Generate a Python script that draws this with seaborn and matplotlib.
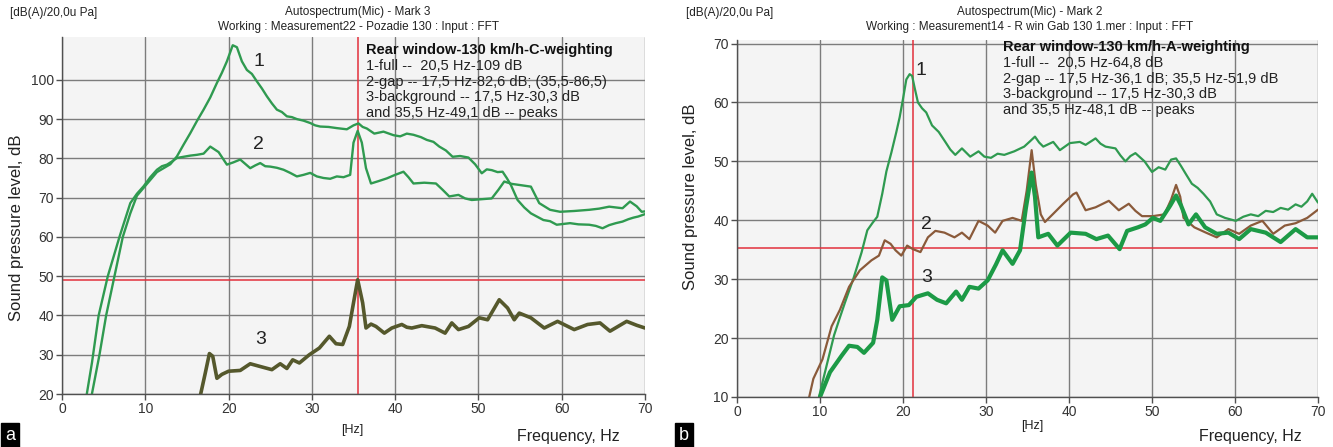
import matplotlib
matplotlib.use("Agg")
import matplotlib.pyplot as plt
import matplotlib.font_manager as fm
import seaborn as sns

# ---------------- data: panel a (C-weighting) ----------------
a_full_x = [3.5, 4.5, 5.3, 6.3, 7.3, 8.2, 9.0, 9.8, 10.6, 11.4,
            12.2, 13.0, 13.8, 14.6, 15.4, 16.2, 17.0, 17.8, 18.6, 19.2,
            19.8, 20.5, 21.0, 21.6, 22.2, 22.8, 23.4, 24.0, 24.6, 25.2,
            25.8, 26.4, 27.0, 27.6, 28.2, 29.0, 29.8, 30.4, 31.0, 32.0,
            33.0, 34.2, 35.0, 35.6, 36.1, 36.6, 37.5, 38.6, 39.8, 40.6,
            41.4, 42.2, 43.1, 43.8, 44.6, 45.3, 46.1, 46.9, 47.8, 48.8,
            49.6, 50.4, 51.0, 51.6, 52.3, 52.9, 53.4, 53.9, 54.7, 55.5,
            56.3, 57.0, 57.8, 58.6, 59.4, 60.2, 61.0, 62.0, 63.3, 64.1,
            64.9, 65.7, 66.5, 67.3, 68.0, 68.6, 69.2, 70.0]
a_full_y = [19, 30, 40, 50, 60, 66, 70.5, 72.5, 74.5, 76.5,
            77.5, 78.5, 80.5, 83.5, 86.4, 89.5, 92.4, 95.5, 99.2, 101.8,
            104.7, 108.8, 108.3, 104.7, 102.5, 101.5, 99.6, 97.8, 95.8, 94.0,
            92.4, 91.8, 90.7, 90.5, 90.0, 89.6, 89.0, 88.4, 88.1, 88.0,
            87.7, 87.4, 88.4, 88.9, 88.0, 87.6, 86.3, 86.8, 85.9, 85.6,
            86.3, 86.0, 85.4, 84.7, 84.2, 83.0, 82.0, 80.4, 80.6, 80.2,
            78.5, 76.2, 77.2, 77.0, 76.5, 76.6, 75.0, 73.2, 69.4, 67.5,
            66.0, 65.2, 64.3, 64.0, 63.1, 63.3, 63.5, 63.2, 63.1, 62.8,
            62.2, 63.0, 63.5, 63.9, 64.5, 64.9, 65.2, 65.8]

a_gap_x = [2.9, 3.6, 4.4, 5.5, 6.9, 8.2, 9.0, 9.8, 10.6, 11.4,
           12.0, 12.6, 13.2, 13.8, 14.6, 15.4, 16.2, 17.0, 17.8, 18.3,
           18.8, 19.3, 19.8, 20.6, 21.4, 22.0, 22.6, 23.2, 23.8, 24.4,
           25.0, 25.8, 26.6, 27.4, 28.2, 29.0, 29.8, 30.6, 31.4, 32.2,
           33.0, 33.8, 34.6, 35.0, 35.5, 36.0, 36.5, 37.1, 38.0, 39.0,
           40.0, 41.0, 41.6, 42.2, 43.5, 44.9, 45.7, 46.5, 47.6, 48.4,
           49.2, 50.4, 51.6, 52.4, 53.1, 54.0, 55.0, 56.3, 57.3, 58.6,
           59.8, 61.5, 63.3, 64.5, 65.7, 66.5, 67.3, 68.2, 69.0, 69.6,
           70.0]
a_gap_y = [19, 28, 40, 50, 60, 68.6, 71.0, 72.9, 75.2, 77.1,
           78.0, 78.4, 79.2, 80.1, 80.4, 80.7, 80.9, 81.2, 83.0, 82.3,
           81.6, 80.0, 78.4, 79.0, 79.7, 78.6, 77.5, 78.2, 78.8, 78.0,
           77.9, 77.6, 77.1, 76.3, 75.4, 75.8, 76.3, 75.4, 75.0, 74.8,
           75.4, 75.2, 75.8, 84.0, 87.0, 84.0, 77.5, 73.6, 74.2, 74.9,
           75.8, 76.6, 75.2, 73.6, 73.8, 73.6, 72.0, 70.3, 70.7, 69.8,
           69.4, 69.6, 69.8, 72.0, 74.1, 73.5, 73.2, 72.8, 68.6, 66.9,
           66.4, 66.6, 66.9, 67.2, 67.7, 67.5, 67.3, 69.0, 67.8, 66.4,
           66.5]

a_bg_x = [16.6, 17.2, 17.7, 18.1, 18.6, 19.2, 20.0, 21.4, 22.6, 23.8,
          25.2, 26.2, 27.0, 27.7, 28.5, 29.7, 30.9, 32.1, 32.9, 33.7,
          34.5, 35.0, 35.5, 36.1, 36.5, 37.1, 37.7, 38.7, 39.6, 40.8,
          41.4, 42.0, 43.2, 44.8, 46.0, 46.8, 47.6, 48.8, 50.1, 51.1,
          52.5, 53.5, 54.3, 54.9, 56.3, 57.9, 59.5, 61.5, 63.1, 64.6,
          65.8, 67.8, 69.0, 70.0]
a_bg_y = [19.5, 25.3, 30.3, 29.6, 24.0, 25.0, 25.8, 26.0, 27.7, 27.0,
          26.2, 27.7, 26.5, 28.7, 27.9, 30.0, 31.7, 34.7, 32.8, 32.6,
          37.2, 43.2, 49.1, 43.2, 36.8, 37.8, 37.2, 35.5, 36.8, 37.7,
          37.0, 36.8, 37.4, 36.8, 35.5, 38.1, 36.4, 37.2, 39.4, 38.9,
          44.0, 41.9, 38.9, 40.6, 39.4, 36.8, 38.5, 36.4, 37.7, 38.1,
          36.0, 38.5, 37.5, 36.8]

# ---------------- data: panel b (A-weighting) ----------------
b_full_x = [9.8, 10.3, 11.0, 11.7, 12.4, 13.0, 14.0, 15.0, 15.7, 16.3,
            16.9, 17.5, 18.0, 18.6, 19.2, 19.6, 20.0, 20.4, 20.8, 21.1,
            21.4, 21.8, 22.3, 22.8, 23.5, 24.3, 25.1, 25.7, 26.3, 27.1,
            28.1, 29.1, 29.8, 30.6, 31.4, 32.2, 33.4, 34.6, 35.3, 35.9,
            36.4, 36.9, 38.1, 38.9, 40.1, 41.3, 42.0, 43.2, 43.8, 44.4,
            45.6, 46.2, 46.8, 47.4, 48.0, 49.1, 50.0, 50.8, 51.6, 52.3,
            52.9, 53.5, 54.1, 54.8, 55.5, 56.2, 57.0, 57.8, 58.8, 60.1,
            61.0, 61.9, 62.8, 63.7, 64.6, 65.5, 66.4, 67.3, 68.0, 68.7,
            69.3, 70.0]
b_full_y = [9.5, 12.5, 16.5, 20.5, 23.5, 26.0, 30.0, 34.5, 38.3, 39.5,
            40.6, 44.5, 48.3, 51.5, 55.0, 57.5, 60.6, 63.9, 64.8, 64.5,
            62.5, 60.0, 59.0, 58.3, 56.1, 55.0, 53.3, 52.0, 51.1, 52.2,
            50.8, 51.7, 50.8, 50.6, 51.3, 51.1, 51.7, 52.5, 53.4, 54.2,
            53.2, 52.5, 53.3, 51.9, 53.1, 53.3, 52.8, 53.9, 53.0, 52.5,
            52.2, 51.0, 50.0, 50.9, 51.4, 50.0, 48.2, 49.0, 48.6, 50.3,
            50.5, 49.2, 47.8, 46.2, 45.5, 44.5, 43.2, 41.0, 40.4, 39.9,
            40.6, 41.0, 40.7, 41.6, 41.4, 42.1, 41.8, 42.7, 42.3, 43.2,
            44.5, 43.0]

b_gap_x = [8.7, 9.2, 10.3, 11.4, 12.4, 13.5, 14.8, 16.2, 17.1, 17.8,
           18.5, 19.1, 19.8, 20.5, 21.2, 22.1, 23.0, 23.9, 25.0, 26.2,
           27.1, 28.0, 29.1, 30.2, 31.1, 32.0, 33.2, 34.3, 34.9, 35.5,
           36.0, 36.6, 37.1, 38.1, 39.3, 40.5, 40.9, 42.0, 43.2, 44.8,
           46.0, 47.2, 48.0, 48.8, 50.1, 51.5, 52.3, 52.9, 53.4, 53.8,
           55.1, 56.5, 57.8, 59.2, 60.5, 61.9, 63.3, 64.6, 66.0, 67.3,
           68.7, 70.0]
b_gap_y = [10.0, 13.1, 16.4, 22.0, 24.8, 28.7, 31.5, 33.2, 34.0, 36.6,
           36.0, 34.9, 34.0, 35.7, 35.1, 34.6, 37.1, 38.2, 37.9, 37.1,
           37.9, 36.8, 39.9, 39.1, 37.9, 39.9, 40.4, 39.9, 45.0, 51.9,
           46.0, 41.0, 39.7, 41.1, 42.8, 44.4, 44.7, 41.7, 42.2, 43.3,
           41.7, 42.8, 41.6, 40.7, 40.7, 41.0, 43.5, 46.0, 44.0, 40.4,
           38.8, 37.9, 37.1, 38.5, 37.7, 39.1, 39.9, 37.7, 39.1, 39.5,
           40.4, 41.8]

b_bg_x = [10.0, 11.2, 12.6, 13.5, 14.5, 15.3, 16.4, 16.9, 17.5, 18.0,
          18.7, 19.6, 20.7, 21.6, 23.0, 24.1, 25.2, 26.4, 27.1, 28.0,
          29.1, 30.2, 31.2, 32.0, 33.2, 34.1, 34.8, 35.5, 35.9, 36.3,
          37.5, 38.6, 40.2, 42.0, 43.3, 44.7, 46.1, 47.0, 48.3, 49.2,
          50.1, 51.0, 52.2, 52.9, 53.5, 54.4, 55.3, 56.4, 57.8, 59.2,
          60.5, 61.9, 63.7, 65.5, 67.3, 68.7, 70.0]
b_bg_y = [10.0, 14.2, 17.0, 18.7, 18.5, 17.5, 19.2, 23.1, 30.3, 29.8,
          23.1, 25.4, 25.6, 27.0, 27.6, 26.5, 25.9, 27.9, 26.5, 28.7,
          28.4, 29.8, 32.5, 34.9, 32.6, 34.9, 42.0, 48.1, 44.0, 37.1,
          37.7, 35.7, 37.9, 37.7, 36.8, 37.4, 35.1, 38.2, 38.8, 39.3,
          40.4, 39.9, 42.5, 44.2, 42.5, 39.3, 41.0, 38.8, 37.7, 37.9,
          36.8, 38.5, 37.9, 36.3, 38.5, 37.1, 37.1]

# cursor (red) lines
a_cursor = (35.5, 49.1)
b_cursor = (21.2, 35.3)

x_ticks = [0, 10, 20, 30, 40, 50, 60, 70]
a_yticks = [20, 30, 40, 50, 60, 70, 80, 90, 100]
b_yticks = [10, 20, 30, 40, 50, 60, 70]

curve_labels = ["1", "2", "3"]
a_label_pos = [(23.6, 104.7), (23.6, 83.5), (23.8, 34.0)]
b_label_pos = [(22.2, 65.5), (22.8, 39.3), (22.8, 30.3)]

a_header = ["Autospectrum(Mic) - Mark 3",
            "Working : Measurement22 - Pozadie 130 : Input : FFT"]
b_header = ["Autospectrum(Mic) - Mark 2",
            "Working : Measurement14 - R win Gab 130 1.mer : Input : FFT"]
unit_text = "[dB(A)/20,0u Pa]"
a_note_title = "Rear window-130 km/h-C-weighting"
a_note_lines = ["1-full --  20,5 Hz-109 dB",
                "2-gap -- 17,5 Hz-82,6 dB; (35,5-86,5)",
                "3-background -- 17,5 Hz-30,3 dB",
                "and 35,5 Hz-49,1 dB -- peaks"]
b_note_title = "Rear window-130 km/h-A-weighting"
b_note_lines = ["1-full --  20,5 Hz-64,8 dB",
                "2-gap -- 17,5 Hz-36,1 dB; 35,5 Hz-51,9 dB",
                "3-background -- 17,5 Hz-30,3 dB",
                "and 35,5 Hz-48,1 dB -- peaks"]

# ---------------- styling ----------------
sns.set_theme(style="white")
names = {f.name for f in fm.fontManager.ttflist}
plt.rcParams['font.family'] = ['Liberation Sans', 'DejaVu Sans']
narrow = ['Liberation Sans Narrow', 'Liberation Sans'] if 'Liberation Sans Narrow' in names else ['Liberation Sans']

W, H = 1333, 447
fig = plt.figure(figsize=(W / 100, H / 100), dpi=100)
fig.patch.set_facecolor('white')

axA = fig.add_axes([62 / W, 1 - 394 / H, 583 / W, 357 / H])
axB = fig.add_axes([737 / W, 1 - 397 / H, 581 / W, 357 / H])

GREEN = '#2f9a50'
GREEN_THICK = '#1c9a46'
BROWN = '#8a5a3a'
OLIVE = '#55582c'
RED = '#e3303c'
GRID = '#7c7c7c'


def style(ax, ylim, yticks):
    ax.set_facecolor('#f4f4f4')
    ax.set_xlim(0, 70)
    ax.set_ylim(*ylim)
    ax.set_xticks(x_ticks)
    ax.set_yticks(yticks)
    ax.grid(True, color=GRID, lw=1.0)
    ax.set_axisbelow(True)
    for s in ['top', 'right']:
        ax.spines[s].set_visible(False)
    for s in ['left', 'bottom']:
        ax.spines[s].set_color('#505050')
        ax.spines[s].set_linewidth(1.0)
    ax.tick_params(bottom=True, left=True, direction='out', length=4, width=1,
                   color='#505050', labelsize=10, labelcolor='#333333', pad=2)
    for lab in ax.get_xticklabels() + ax.get_yticklabels():
        lab.set_family(narrow)
    ax.set_xlabel('')
    ax.set_ylabel('')


style(axA, (20, 110.9), a_yticks)
style(axB, (10, 70.6), b_yticks)

# cursors
for ax, (cx, cy) in [(axA, a_cursor), (axB, b_cursor)]:
    ax.axvline(cx, color=RED, lw=1.1, zorder=1.6)
    ax.axhline(cy, color=RED, lw=1.1, zorder=1.6)

# panel a curves
sns.lineplot(x=a_full_x, y=a_full_y, ax=axA, color=GREEN, lw=1.7, sort=False, estimator=None)
sns.lineplot(x=a_gap_x, y=a_gap_y, ax=axA, color=GREEN, lw=1.7, sort=False, estimator=None)
sns.lineplot(x=a_bg_x, y=a_bg_y, ax=axA, color=OLIVE, lw=2.6, sort=False, estimator=None)

# panel b curves
sns.lineplot(x=b_full_x, y=b_full_y, ax=axB, color=GREEN, lw=1.6, sort=False, estimator=None)
sns.lineplot(x=b_gap_x, y=b_gap_y, ax=axB, color=BROWN, lw=1.6, sort=False, estimator=None)
sns.lineplot(x=b_bg_x, y=b_bg_y, ax=axB, color=GREEN_THICK, lw=3.0, sort=False, estimator=None)

for ax in (axA, axB):
    ax.set_xlabel('')
    ax.set_ylabel('')

# curve number labels
for lab, (lx, ly) in zip(curve_labels, a_label_pos):
    axA.text(lx, ly, lab, fontsize=14, color='#222222', ha='center', va='center')
for lab, (lx, ly) in zip(curve_labels, b_label_pos):
    axB.text(lx, ly, lab, fontsize=14, color='#222222', ha='center', va='center')

# notes
for ax, x0, y0, title, lines in [(axA, 366, 50, a_note_title, a_note_lines),
                                 (axB, 1003, 47, b_note_title, b_note_lines)]:
    fig.text(x0 / W, 1 - y0 / H, title, fontsize=10.5, fontweight='bold',
             color='#111111', ha='left', va='center')
    for i, ln in enumerate(lines):
        fig.text(x0 / W, 1 - (y0 + 15.8 * (i + 1)) / H, ln, fontsize=10.5,
                 color='#222222', ha='left', va='center')

# headers
for cx, ux, hdr in [(358, 10, a_header), (1030, 686, b_header)]:
    fig.text(ux / W, 1 - 13 / H, unit_text, fontsize=8.5, color='#222222',
             ha='left', va='center', family=narrow)
    fig.text(cx / W, 1 - 12 / H, hdr[0], fontsize=8.5, color='#222222',
             ha='center', va='center', family=narrow)
    fig.text(cx / W, 1 - 27 / H, hdr[1], fontsize=8.5, color='#222222',
             ha='center', va='center', family=narrow)

# axis titles
fig.text(17 / W, 1 - 228 / H, "Sound pressure level, dB", rotation=90,
         fontsize=12, color='#222222', ha='center', va='center')
fig.text(690 / W, 1 - 197 / H, "Sound pressure level, dB", rotation=90,
         fontsize=12, color='#222222', ha='center', va='center')
for hx, hy, fx in [(352, 430, 568), (1032, 426, 1250)]:
    fig.text(hx / W, 1 - hy / H, "[Hz]", fontsize=9, color='#222222',
             ha='center', va='center', family=narrow)
    fig.text(fx / W, 1 - 437 / H, "Frequency, Hz", fontsize=11.5,
             color='#222222', ha='center', va='center')

# panel letters
for px, letter in [(10, 'a'), (684, 'b')]:
    fig.text(px / W, 1 - 435 / H, letter, fontsize=13, color='white',
             ha='center', va='center',
             bbox=dict(boxstyle='square,pad=0.2', facecolor='black', edgecolor='black'))

fig.savefig('out.png', dpi=100, facecolor='white')
